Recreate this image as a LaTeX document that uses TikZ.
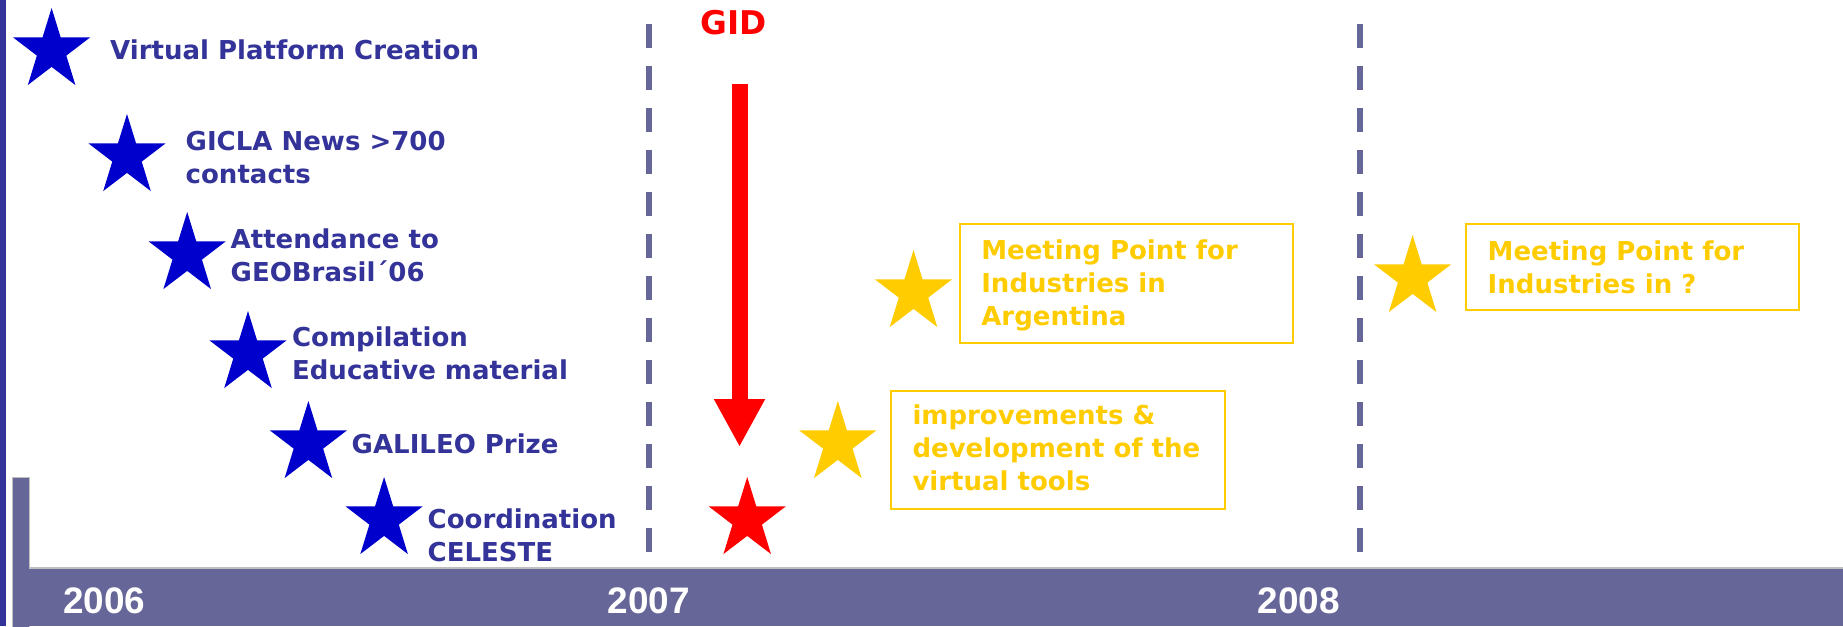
\documentclass[tikz,border=0pt]{standalone}
\usepackage{fontspec}
\setmainfont{DejaVu Sans}
\newfontfamily\yearfont{Liberation Sans}
\usetikzlibrary{arrows.meta}
\definecolor{gblue}{HTML}{333399}
\definecolor{gband}{HTML}{666699}
\definecolor{gstar}{HTML}{0000CC}
\definecolor{gyellow}{HTML}{FFCC00}
\tikzset{
	evstar/.pic={\fill[#1, xscale=0.95] (90:0.426) -- (126:0.163) -- (162:0.426) -- (198:0.163) -- (234:0.426) -- (270:0.163) -- (306:0.426) -- (342:0.163) -- (18:0.426) -- (54:0.163) -- cycle;},
	bluetext/.style={anchor=base west, inner sep=0, align=left, text=gblue, font=\fontsize{7.4}{9.25}\selectfont\bfseries},
	yelltext/.style={bluetext, text=gyellow},
	yellbox/.style={draw=gyellow, line width=0.02cm, anchor=north west, inner sep=0},
	yeartext/.style={anchor=base west, inner sep=0, text=white, font=\yearfont\fontsize{10.5}{12}\selectfont\bfseries},
	yearline/.style={gband, line width=0.055cm, dash pattern=on 0.24cm off 0.18cm}
}

\begin{document}
\begin{tikzpicture}
			%%%%% START %%%%%
			
			\fill[white] (0, 0) rectangle (18.43, 6.26);
			\useasboundingbox (0, 0) rectangle (18.43, 6.26);
			
			\fill[gblue] (0, 0) rectangle (0.06, 6.26);
			\draw[fill=gband, draw=black!25, line width=0.01cm] (0.123, -0.05) rectangle (0.29, 1.49);
			\fill[gband] (0.29, 0) rectangle (18.43, 0.58);
			\draw[black!25, line width=0.02cm] (0.29, 0.58) -- (18.43, 0.58);
			
			\node[yeartext] (y2006) at (0.625, 0.13) {2006};
			\node[yeartext] (y2007) at (6.07, 0.13) {2007};
			\node[yeartext] (y2008) at (12.57, 0.13) {2008};
			
			\draw[yearline] (6.488, 6.02) -- (6.488, 0.74);
			\draw[yearline] (13.60, 6.02) -- (13.60, 0.74);
			
			\pic at (0.516, 5.754) {evstar=gstar};
			\pic at (1.27, 4.694) {evstar=gstar};
			\pic at (1.872, 3.714) {evstar=gstar};
			\pic at (2.48, 2.724) {evstar=gstar};
			\pic at (3.084, 1.824) {evstar=gstar};
			\pic at (3.841, 1.064) {evstar=gstar};
			
			% base anchor sits on the last line
			\node[bluetext] (virt) at (1.095, 5.66) {Virtual Platform Creation};
			\node[bluetext] (gicla) at (1.85, 4.43) {GICLA News >700\\contacts};
			\node[bluetext] (geob) at (2.30, 3.45) {Attendance to\\GEOBrasil´06};
			\node[bluetext] (comp) at (2.914, 2.47) {Compilation\\Educative material};
			\node[bluetext] (gali) at (3.51, 1.73) {GALILEO Prize};
			\node[bluetext] (celeste) at (4.27, 0.65) {Coordination\\CELESTE};
			
			\node[bluetext, text=red, font=\fontsize{9.3}{11}\selectfont\bfseries] (gid) at (6.995, 5.91) {GID};
			\coordinate (arrtop) at (7.395, 5.42);
			\coordinate (arrtip) at (7.395, 1.79);
			\draw[red, line width=0.16cm, -{Triangle[width=0.477cm, length=0.48cm]}] (arrtop) -- (arrtip);
			\pic at (7.472, 1.064) {evstar=red};
			
			\pic at (8.378, 1.824) {evstar=gyellow};
			\pic at (9.135, 3.334) {evstar=gyellow};
			\pic at (14.126, 3.484) {evstar=gyellow};
			
			\node[yellbox, minimum width=3.33cm, minimum height=1.19cm] (boxA) at (9.59, 4.03) {};
			\node[yelltext] (txtA) at ([xshift=0.216cm, yshift=-1.02cm]boxA.north west) {Meeting Point for\\Industries in\\Argentina};
			
			\node[yellbox, minimum width=3.338cm, minimum height=1.18cm] (boxB) at (8.902, 2.36) {};
			\node[yelltext] (txtB) at ([xshift=0.216cm, yshift=-1.00cm]boxB.north west) {improvements \&\\development of the\\virtual tools};
			
			\node[yellbox, minimum width=3.332cm, minimum height=0.86cm] (boxC) at (14.652, 4.03) {};
			\node[yelltext] (txtC) at ([xshift=0.218cm, yshift=-0.70cm]boxC.north west) {Meeting Point for\\Industries in ?};
			
			%%%%% END %%%%%
\end{tikzpicture}
\end{document}
